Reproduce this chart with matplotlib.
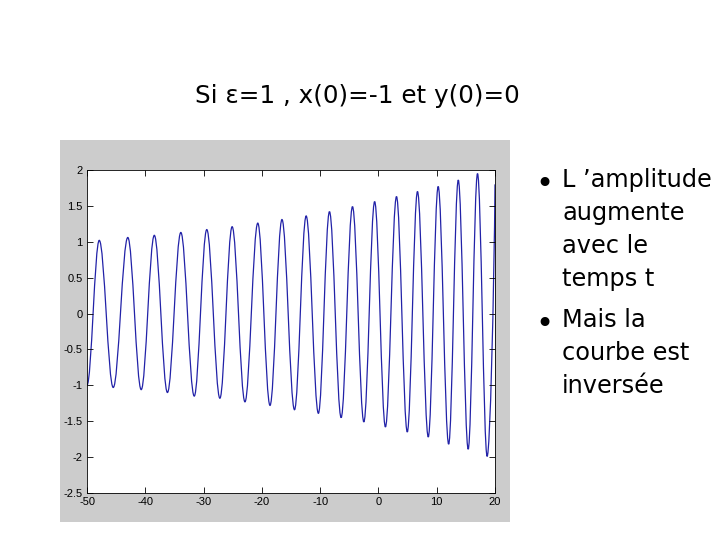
import matplotlib
matplotlib.use("Agg")
import matplotlib.pyplot as plt
from matplotlib.path import Path
from matplotlib.patches import PathPatch

# Extrema of the curve (time, value); last point is the curve's end
ext_t = [-50.0, -47.9, -45.5, -43.0, -40.7, -38.45, -36.2, -33.9, -31.6, -29.45,
         -27.2, -25.1, -22.9, -20.7, -18.6, -16.55, -14.4, -12.4, -10.3, -8.4,
         -6.4, -4.45, -2.5, -0.65, 1.2, 3.1, 4.95, 6.7, 8.55, 10.25,
         12.05, 13.7, 15.4, 17.0, 18.65, 20.0]
ext_x = [-1.0, 1.02, -1.03, 1.06, -1.06, 1.09, -1.10, 1.13, -1.15, 1.17,
         -1.18, 1.21, -1.23, 1.26, -1.28, 1.31, -1.34, 1.36, -1.39, 1.42,
         -1.45, 1.49, -1.51, 1.56, -1.58, 1.63, -1.65, 1.70, -1.72, 1.77,
         -1.82, 1.86, -1.89, 1.95, -1.99, 1.80]

xticks = [-50, -40, -30, -20, -10, 0, 10, 20]
yticks = [-2.5, -2, -1.5, -1, -0.5, 0, 0.5, 1, 1.5, 2]
ytick_labels = ["-2.5", "-2", "-1.5", "-1", "-0.5", "0", "0.5", "1", "1.5", "2"]

title = "Si ε=1 , x(0)=-1 et y(0)=0"
bullet1 = ["L ’amplitude", "augmente", "avec le", "temps t"]
bullet2 = ["Mais la", "courbe est", "inversée"]

fig = plt.figure(figsize=(7.2, 5.4), dpi=100)
fig.patch.set_facecolor("white")

# grey MATLAB figure background
bg = fig.add_axes([60 / 720, 18 / 540, 450 / 720, 382 / 540])
bg.set_facecolor("#cccccc")
bg.set_xticks([])
bg.set_yticks([])
for s in bg.spines.values():
    s.set_visible(False)
bg.set_zorder(0)

ax = fig.add_axes([87 / 720, 47 / 540, 408 / 720, 323 / 540])
ax.set_zorder(2)
ax.set_facecolor("white")

# smooth curve through the extrema using Bezier segments (horizontal tangents at extrema)
k = 1 - 2 / 3.14159265
verts = [(ext_t[0], ext_x[0])]
codes = [Path.MOVETO]
n = len(ext_t)
for i in range(n - 1):
    t0, x0 = ext_t[i], ext_x[i]
    t1, x1 = ext_t[i + 1], ext_x[i + 1]
    dt = t1 - t0
    dv = x1 - x0
    c1 = (t0 + k * dt, x0)
    if i == n - 2:
        c2 = (t1 - 0.12 * dt, x1 - 0.40 * dv)
    else:
        c2 = (t1 - k * dt, x1)
    verts += [c1, c2, (t1, x1)]
    codes += [Path.CURVE4] * 3
ax.add_patch(PathPatch(Path(verts, codes), facecolor="none",
                       edgecolor="#2222a8", linewidth=0.9))

ax.set_xlim(-50, 20)
ax.set_ylim(-2.5, 2)
ax.set_xticks(xticks)
ax.set_xticklabels([str(v) for v in xticks])
ax.set_yticks(yticks)
ax.set_yticklabels(ytick_labels)
ax.tick_params(direction="in", top=True, right=True, length=4, width=0.6,
               labelsize=8, pad=3)
for s in ax.spines.values():
    s.set_linewidth(0.6)
    s.set_color("black")
for lab in ax.get_xticklabels() + ax.get_yticklabels():
    lab.set_family("Liberation Sans")

fig.text(357 / 720, 1 - 96 / 540, title, fontsize=17.7, ha="center", va="center",
         family="DejaVu Sans", color="black")

fs = 17.3
y = 180
fig.text(535 / 720, 1 - (y + 4) / 540, "•", fontsize=22, ha="left", va="center",
         family="DejaVu Sans")
for line in bullet1:
    fig.text(562 / 720, 1 - y / 540, line, fontsize=fs, ha="left", va="center",
             family="DejaVu Sans")
    y += 33
y = 320
fig.text(535 / 720, 1 - (y + 4) / 540, "•", fontsize=22, ha="left", va="center",
         family="DejaVu Sans")
for line in bullet2:
    fig.text(562 / 720, 1 - y / 540, line, fontsize=fs, ha="left", va="center",
             family="DejaVu Sans")
    y += 33

fig.savefig("out.png", dpi=100, facecolor="white")
